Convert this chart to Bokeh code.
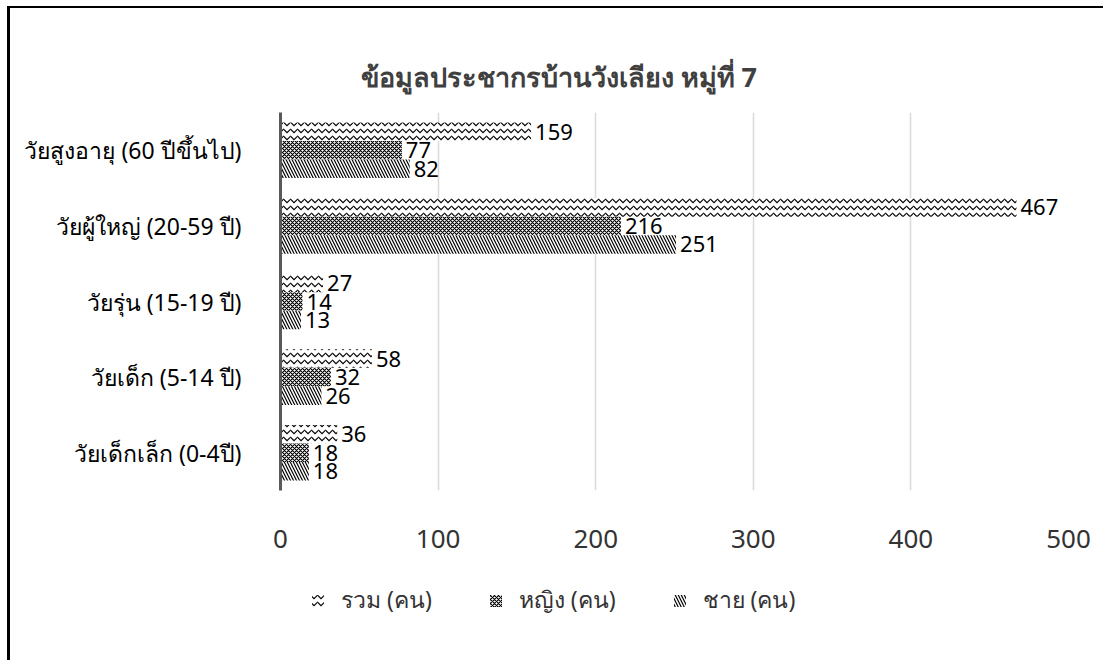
from bokeh.plotting import figure
from bokeh.layouts import column
from bokeh.models import ColumnDataSource, FactorRange, Legend, LegendItem, Range1d, FixedTicker
from bokeh.transform import dodge
from bokeh.embed import file_html
from bokeh.resources import INLINE
from bokeh.core.properties import value

title_text = "ข้อมูลประชากรบ้านวังเลียง หมู่ที่ 7"
categories = ["วัยเด็กเล็ก (0-4ปี)", "วัยเด็ก (5-14 ปี)", "วัยรุ่น (15-19 ปี)",
              "วัยผู้ใหญ่ (20-59 ปี)", "วัยสูงอายุ (60 ปีขึ้นไป)"]
total = [36, 58, 27, 467, 159]
female = [18, 32, 14, 216, 77]
male = [18, 26, 13, 251, 82]
series_names = ["รวม (คน)", "หญิง (คน)", "ชาย (คน)"]
x_ticks = [0, 100, 200, 300, 400, 500]
grid_ticks = [100, 200, 300, 400, 500]

FONT = "Noto Sans"

src = ColumnDataSource(dict(
    cat=categories, total=total, female=female, male=male,
    total_lbl=[str(v) for v in total],
    female_lbl=[str(v) for v in female],
    male_lbl=[str(v) for v in male],
))

p = figure(frame_width=788, frame_height=378,
           y_range=FactorRange(*categories), x_range=Range1d(0, 500),
           output_backend="svg", toolbar_location=None,
           min_border_left=270, min_border_right=35,
           min_border_top=104, min_border_bottom=75)

p.outline_line_color = None
p.background_fill_color = "white"
p.border_fill_color = "white"

bh = 0.245
specs = [("total", bh, "horizontal_wave", 7),
         ("female", 0.0, "diagonal_cross", 4),
         ("male", -bh, "left_diagonal_line", 6)]
for col, off, pat, sc in specs:
    p.hbar(y=dodge("cat", off, range=p.y_range), right=col, left=0, height=bh,
           fill_color="white", line_color=None,
           hatch_pattern=pat, hatch_color="black", hatch_scale=sc, hatch_weight=1.2,
           source=src)
    p.text(x=col, y=dodge("cat", off, range=p.y_range), text=col + "_lbl",
           x_offset=4, text_baseline="middle", text_align="left",
           text_font=value(FONT), text_font_size="22px", text_color="black",
           source=src)

p.xgrid.ticker = FixedTicker(ticks=grid_ticks)
p.xgrid.grid_line_color = "#d9d9d9"
p.xgrid.grid_line_width = 1.5
p.ygrid.grid_line_color = None

p.xaxis.ticker = FixedTicker(ticks=x_ticks)
p.xaxis.axis_line_color = None
p.xaxis.major_tick_line_color = None
p.xaxis.minor_tick_line_color = None
p.xaxis.major_label_standoff = 33
p.xaxis.major_label_text_font = FONT
p.xaxis.major_label_text_font_size = "26px"
p.xaxis.major_label_text_color = "#333333"

p.yaxis.axis_line_width = 3
p.yaxis.axis_line_color = "#595959"
p.yaxis.major_tick_line_color = None
p.yaxis.minor_tick_line_color = None
p.yaxis.major_label_standoff = 33
p.yaxis.major_label_text_font = FONT
p.yaxis.major_label_text_font_size = "23px"
p.yaxis.major_label_text_color = "black"

p.title.text = title_text
p.title.text_font = FONT
p.title.text_font_size = "27px"
p.title.text_font_style = "bold"
p.title.text_color = "#404040"
p.title.align = "left"
p.title.offset = 80
p.title.standoff = 35

# legend strip: zero-length swatch bars only carry the legend styles
pl = figure(width=1093, height=95, x_range=Range1d(0, 1), y_range=Range1d(0, 1),
            output_backend="svg", toolbar_location=None,
            min_border_left=0, min_border_right=0, min_border_top=0, min_border_bottom=0)
pl.axis.visible = False
pl.grid.grid_line_color = None
pl.outline_line_color = None
pl.border_fill_color = "white"
items = []
for (col, off, pat, sc), name in zip(specs, series_names):
    swatch = ColumnDataSource(dict(y=[0.5], right=[0]))
    r = pl.hbar(y="y", right="right", left=0, height=0.5, source=swatch,
                fill_color="white", line_color=None,
                hatch_pattern=pat, hatch_color="black", hatch_scale=sc, hatch_weight=1.2)
    items.append(LegendItem(label=name, renderers=[r]))
legend = Legend(items=items, orientation="horizontal", location=(30, 42),
                label_text_font=FONT, label_text_font_size="23px", label_text_color="#333333",
                glyph_width=15, glyph_height=15, label_standoff=16, spacing=56,
                padding=5, margin=0, border_line_color=None, background_fill_alpha=0)
pl.add_layout(legend, "center")

layout = column(p, pl, spacing=0)
layout.styles = {"margin-left": "7px", "margin-top": "6px",
                 "border-left": "3px solid black", "border-top": "2px solid black"}

open("out.html", "w").write(file_html(layout, INLINE))
